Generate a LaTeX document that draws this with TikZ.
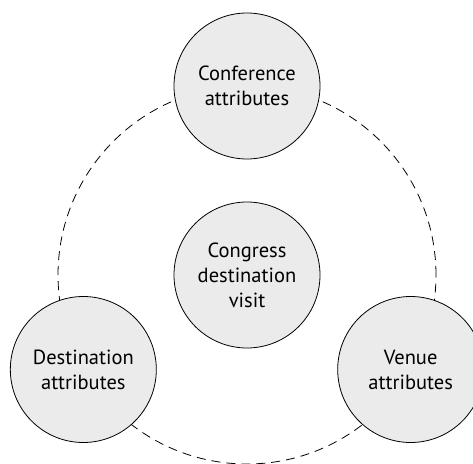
\documentclass[tikz,border=0pt]{standalone}
\usepackage{fontspec}
\setmainfont{PT Sans}
\usetikzlibrary{calc}
\definecolor{cfill}{HTML}{EBEBEB}
\begin{document}
\begin{tikzpicture}[x=1pt,y=1pt,
  blob/.style={circle,draw=black,line width=0.8pt,fill=cfill,minimum size=146pt,inner sep=0pt,align=center,
    font=\fontsize{20.5}{25}\selectfont},
  ring/.style={draw=black,line width=0.8pt,dash pattern=on 9pt off 6pt}]
\useasboundingbox (0,0) rectangle (473,463);
\begin{scope}
\clip (0,0) rectangle (473,463);
\coordinate (o) at (247,188);
\draw[ring] (o) circle (189);
\node[blob] (conf) at ($(o)+(90:189)$) {Conference\\attributes};
\node[blob] (dest) at ($(o)+(210:189)$) {Destination\\attributes};
\node[blob] (venue) at ($(o)+(330:189)$) {Venue\\attributes};
\node[blob] (cong) at (o) {Congress\\destination\\visit};
\end{scope}
\end{tikzpicture}
\end{document}
